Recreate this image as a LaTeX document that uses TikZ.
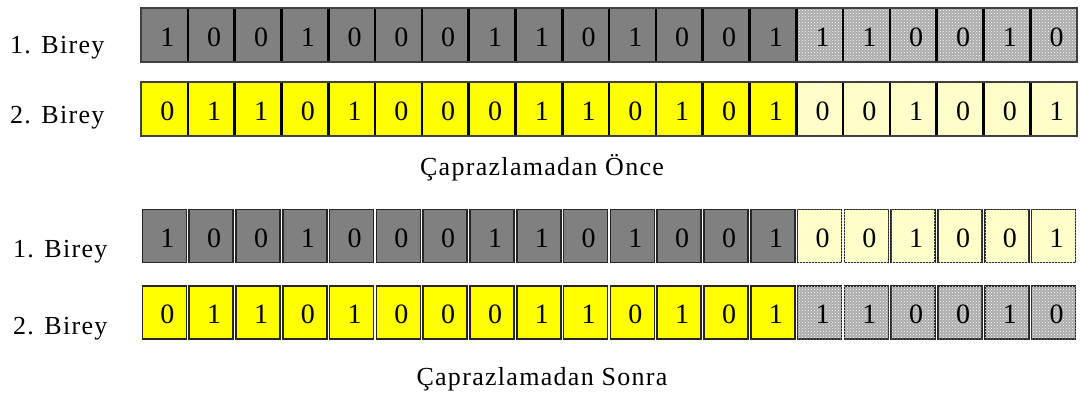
\documentclass[tikz,border=0pt]{standalone}
\usepackage{fontspec}
\setmainfont{Liberation Serif}
\newfontfamily\lblfont[LetterSpace=5]{Liberation Serif}
\usetikzlibrary{patterns}
\definecolor{dgray}{HTML}{808080}
\definecolor{ylw}{HTML}{FFFF00}
\definecolor{pgray}{HTML}{ABABAB}
\definecolor{pyel}{HTML}{FFFFC0}
\newcommand\bitrow[7]{%
  \foreach \b [count=\i] in {#5} {
    \node[#3,#4] (#1\i) at ({141+46.8*(\i-0.5)},#2) {};
    \node[digit] at ([xshift=3pt,yshift=-2pt]#1\i.center) {\b};
  }
  \foreach \b [count=\i from 15] in {#7} {
    \node[#3,#6] (#1\i) at ({141+46.8*(\i-0.5)},#2) {};
    \node[digit] at ([xshift=3pt,yshift=-2pt]#1\i.center) {\b};
  }
}
\begin{document}
\begin{tikzpicture}[x=1pt,y=-1pt,
  tcell/.style={rectangle,minimum width=46.8pt,minimum height=54pt,inner sep=0pt,outer sep=0pt},
  bcell/.style={rectangle,minimum width=44pt,minimum height=53pt,inner sep=0pt,outer sep=0pt,draw=black!85,line width=1.6pt},
  dg/.style={fill=dgray},
  yl/.style={fill=ylw},
  pg/.style={fill=pgray,postaction={pattern=crosshatch dots,pattern color=white}},
  py/.style={fill=pyel,postaction={pattern=crosshatch dots,pattern color=white}},
  digit/.style={inner sep=0pt,font=\fontsize{28}{30}\selectfont},
  lbl/.style={inner sep=0pt,font=\lblfont\fontsize{26}{30}\selectfont},
  divider/.style={draw=black,line width=2.6pt},
  outer/.style={draw=black!75,line width=1.5pt}]
\useasboundingbox (0,0) rectangle (1081,396);
% before crossover
\bitrow{a}{35}{tcell}{dg}{1,0,0,1,0,0,0,1,1,0,1,0,0,1}{pg}{1,1,0,0,1,0}
\bitrow{b}{109}{tcell}{yl}{0,1,1,0,1,0,0,0,1,1,0,1,0,1}{py}{0,0,1,0,0,1}
\foreach \r in {a,b} {
  \foreach \i in {1,...,19} \draw[divider] (\r\i.north east) -- (\r\i.south east);
  \draw[outer] (\r1.north west) rectangle (\r20.south east);
}
% after crossover
\bitrow{c}{236}{bcell}{dg}{1,0,0,1,0,0,0,1,1,0,1,0,0,1}{py}{0,0,1,0,0,1}
\bitrow{d}{312.5}{bcell}{yl}{0,1,1,0,1,0,0,0,1,1,0,1,0,1}{pg}{1,1,0,0,1,0}
% labels
\node[lbl,anchor=base west] (la) at (10,53) {1. Birey};
\node[lbl,anchor=base west] (lb) at (10,123) {2. Birey};
\node[lbl,anchor=base] (t1) at (542,175) {Çaprazlamadan Önce};
\node[lbl,anchor=base west] (lc) at (13,257) {1. Birey};
\node[lbl,anchor=base west] (ld) at (13,334) {2. Birey};
\node[lbl,anchor=base] (t2) at (542,385) {Çaprazlamadan Sonra};
\end{tikzpicture}
\end{document}
